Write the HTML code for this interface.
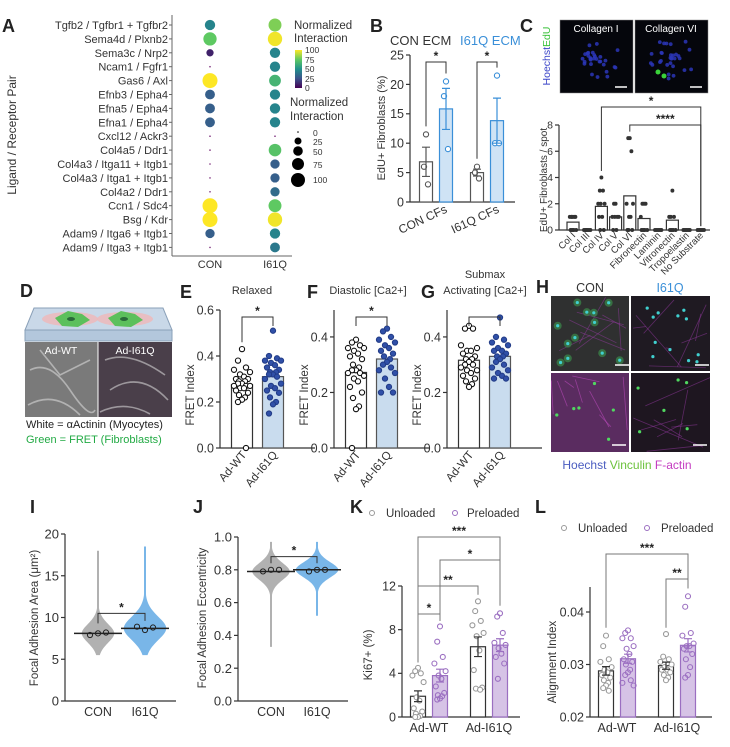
<!DOCTYPE html>
<html><head><meta charset="utf-8"><style>
html,body{margin:0;padding:0;background:#fff;}
svg{display:block;font-family:"Liberation Sans",sans-serif;}
</style></head><body>
<svg id="fig" width="730" height="747" viewBox="0 0 730 747" xmlns="http://www.w3.org/2000/svg">
<defs>
<linearGradient id="vir" x1="0" y1="1" x2="0" y2="0"><stop offset="0" stop-color="#440154"/><stop offset="0.25" stop-color="#3b528b"/><stop offset="0.5" stop-color="#21918c"/><stop offset="0.75" stop-color="#5ec962"/><stop offset="1" stop-color="#fde725"/></linearGradient>
</defs>
<g font-weight="bold" font-size="18" fill="#222">
<text x="2" y="32">A</text>
<text x="370" y="32">B</text>
<text x="520" y="32">C</text>
<text x="20" y="297">D</text>
<text x="180" y="298">E</text>
<text x="307" y="298">F</text>
<text x="421" y="298">G</text>
<text x="536" y="293">H</text>
<text x="30" y="513">I</text>
<text x="193" y="513">J</text>
<text x="350" y="513">K</text>
<text x="535" y="513">L</text>
</g>
<!-- Panel A static -->
<text transform="translate(16,135) rotate(-90)" text-anchor="middle" font-size="12" fill="#333">Ligand / Receptor Pair</text>
<line x1="172" y1="15" x2="172" y2="256" stroke="#666"/>
<line x1="172" y1="256" x2="292" y2="256" stroke="#666"/>
<text x="210" y="268" text-anchor="middle" font-size="11" fill="#333">CON</text>
<text x="275" y="268" text-anchor="middle" font-size="11" fill="#333">I61Q</text>
<g fill="#333">
<text x="294" y="29" font-size="11.5">Normalized</text><text x="294" y="42" font-size="11.5">Interaction</text>
<rect x="295" y="50" width="7" height="38" fill="url(#vir)"/>
<text x="305" y="53" font-size="8.5">100</text><text x="305" y="63" font-size="8.5">75</text><text x="305" y="72" font-size="8.5">50</text><text x="305" y="82" font-size="8.5">25</text><text x="305" y="91" font-size="8.5">0</text>
<text x="290" y="106" font-size="11.5">Normalized</text><text x="290" y="120" font-size="11.5">Interaction</text>
<circle cx="298" cy="132" r="0.8" fill="#000"/><circle cx="298" cy="141" r="3.5" fill="#000"/><circle cx="298" cy="151" r="4.8" fill="#000"/><circle cx="298" cy="164" r="6" fill="#000"/><circle cx="298" cy="180" r="7" fill="#000"/>
<text x="313" y="136" font-size="8.5">0</text><text x="313" y="145" font-size="8.5">25</text><text x="313" y="155" font-size="8.5">50</text><text x="313" y="168" font-size="8.5">75</text><text x="313" y="183" font-size="8.5">100</text>
</g>
<!-- Panel B static -->
<text x="390" y="45" font-size="13" fill="#333">CON ECM</text>
<text x="460" y="45" font-size="13" fill="#3a8fd8">I61Q ECM</text>
<text transform="translate(385,128) rotate(-90)" text-anchor="middle" font-size="11" fill="#333">EdU+ Fibroblasts (%)</text>
<text transform="translate(448,212) rotate(-25)" text-anchor="end" font-size="12" fill="#333">CON CFs</text>
<text transform="translate(500,212) rotate(-25)" text-anchor="end" font-size="12" fill="#333">I61Q CFs</text>
<!-- Panel C static -->
<rect x="560" y="20" width="73" height="73" fill="#05060c" stroke="#888" stroke-width="0.5"/>
<rect x="635" y="20" width="73" height="73" fill="#05060c" stroke="#888" stroke-width="0.5"/>
<text x="596" y="32" text-anchor="middle" font-size="10" fill="#fff">Collagen I</text>
<text x="671" y="32" text-anchor="middle" font-size="10" fill="#fff">Collagen VI</text>
<g id="cdots"></g>
<line x1="615" y1="87" x2="627" y2="87" stroke="#fff" stroke-width="1.5"/><line x1="690" y1="87" x2="702" y2="87" stroke="#fff" stroke-width="1.5"/>
<text transform="translate(550,56) rotate(-90)" text-anchor="middle" font-size="10.5"><tspan fill="#3a44c8">Hoechst</tspan><tspan fill="#3cc23c">EdU</tspan></text>
<text transform="translate(547,180) rotate(-90)" text-anchor="middle" font-size="10" fill="#333">EdU+ Fibroblasts / spot</text>
<!-- Panel D -->
<g>
<polygon points="34,308 163,308 172,330 25,330" fill="#c9d8e8" stroke="#8aa0b8"/>
<rect x="25" y="330" width="147" height="11" fill="#b3c7dc" stroke="#8aa0b8"/>
<ellipse cx="70" cy="319" rx="28" ry="7" fill="#f0b8b8" opacity="0.8"/><ellipse cx="125" cy="319" rx="28" ry="7" fill="#f0b8b8" opacity="0.8"/>
<polygon points="55,318 68,311 82,314 90,320 78,327 62,326" fill="#5cc05c"/><polygon points="108,318 121,311 135,314 143,320 131,327 115,326" fill="#5cc05c"/>
<ellipse cx="71" cy="319" rx="4" ry="2" fill="#2a6a3a"/><ellipse cx="124" cy="319" rx="4" ry="2" fill="#2a6a3a"/>
</g>
<rect x="25" y="342" width="73" height="75" fill="#7a7a7a"/>
<rect x="98" y="342" width="74" height="75" fill="#4a3f4a"/>
<g stroke="#e0e0e0" stroke-width="1.6" opacity="0.55" fill="none"><path d="M30,370 Q50,360 70,390 T95,410"/><path d="M40,350 L60,375 L90,360"/><path d="M28,405 Q55,390 80,415"/><path d="M105,360 Q130,350 165,375"/><path d="M110,390 Q140,370 168,400"/><path d="M100,412 Q125,400 150,414"/></g>
<line x1="98" y1="342" x2="98" y2="417" stroke="#fff"/>
<text x="61" y="354" text-anchor="middle" font-size="10.5" fill="#fff">Ad-WT</text>
<text x="135" y="354" text-anchor="middle" font-size="10.5" fill="#fff">Ad-I61Q</text>
<text x="26" y="428" font-size="11" fill="#222">White = αActinin (Myocytes)</text>
<text x="26" y="443" font-size="11" fill="#22aa44">Green = FRET (Fibroblasts)</text>
<!-- E F G titles -->
<text x="252" y="294" text-anchor="middle" font-size="11" fill="#333">Relaxed</text>
<text x="368" y="294" text-anchor="middle" font-size="11" fill="#333">Diastolic [Ca2+]</text>
<text x="485" y="278" text-anchor="middle" font-size="11" fill="#333">Submax</text>
<text x="485" y="294" text-anchor="middle" font-size="11" fill="#333">Activating [Ca2+]</text>
<!-- H -->
<text x="590" y="292" text-anchor="middle" font-size="12.5" fill="#333">CON</text>
<text x="670" y="292" text-anchor="middle" font-size="12.5" fill="#3a8fd8">I61Q</text>
<rect x="551" y="296" width="78" height="75" fill="#2f3030"/>
<rect x="631" y="296" width="79" height="75" fill="#1f1a22"/>
<rect x="551" y="373" width="78" height="79" fill="#5a2c60"/>
<rect x="631" y="373" width="79" height="79" fill="#1e1620"/>
<g id="hdots"></g>
<text x="627" y="469" text-anchor="middle" font-size="12"><tspan fill="#4a5cc0">Hoechst</tspan> <tspan fill="#6cc23c">Vinculin</tspan> <tspan fill="#c43cc0">F-actin</tspan></text>
<!-- I J -->
<text transform="translate(38,618) rotate(-90)" text-anchor="middle" font-size="11.5" fill="#333">Focal Adhesion Area (μm²)</text>
<text transform="translate(206,618) rotate(-90)" text-anchor="middle" font-size="11.5" fill="#333">Focal Adhesion Eccentricity</text>
<!-- K L legends -->
<g font-size="11.5" fill="#333">
<circle cx="372" cy="513" r="2.5" fill="none" stroke="#999"/><text x="386" y="517">Unloaded</text>
<circle cx="455" cy="513" r="2.5" fill="none" stroke="#9b6fc1"/><text x="467" y="517">Preloaded</text>
<circle cx="564" cy="528" r="2.5" fill="none" stroke="#999"/><text x="578" y="532">Unloaded</text>
<circle cx="647" cy="528" r="2.5" fill="none" stroke="#9b6fc1"/><text x="661" y="532">Preloaded</text>
</g>
<text transform="translate(372,655) rotate(-90)" text-anchor="middle" font-size="11.5" fill="#333">Ki67+ (%)</text>
<text transform="translate(556,662) rotate(-90)" text-anchor="middle" font-size="11.5" fill="#333">Alignment Index</text>
<g id="charts"></g>
</svg>
<script>
// ---------- DATA ----------
const aPairs=["Tgfb2 / Tgfbr1 + Tgfbr2","Sema4d / Plxnb2","Sema3c / Nrp2","Ncam1 / Fgfr1","Gas6 / Axl","Efnb3 / Epha4","Efna5 / Epha4","Efna1 / Epha4","Cxcl12 / Ackr3","Col4a5 / Ddr1","Col4a3 / Itga11 + Itgb1","Col4a3 / Itga1 + Itgb1","Col4a2 / Ddr1","Ccn1 / Sdc4","Bsg / Kdr","Adam9 / Itga6 + Itgb1","Adam9 / Itga3 + Itgb1"];
const aConSize=[40,75,15,0,100,35,35,35,0,0,0,0,0,100,100,30,0];
const aConColor=[45,75,10,0,100,30,30,30,0,0,0,0,0,100,100,30,0];
const aI61Size=[70,90,40,40,55,40,40,40,0,65,30,30,30,70,90,40,35];
const aI61Color=[80,98,45,45,65,45,45,45,0,72,30,30,35,75,98,45,40];

const bGroups=["CON CFs","I61Q CFs"];
const bConEcm=[[11.5,6,3],[6,5,4]];
const bI61Ecm=[[20.5,18,9],[21.5,10,10]];
const bTicks=[0,5,10,15,20,25];

const cCats=["Col I","Col III","Col IV","Col V","Col VI","Fibronectin","Laminin","Vitronectin","Tropoelastin","No Substrate"];
const cPoints=[[1,1,1,1,0,0,0,0,1,1],[0,0,0,0,0,0],[4,3,3,2,2,2,1,1,0,0],[2,2,1,1,1,1,0,0],[7,7,6,2,2,1,1,0,0,0],[2,2,2,1,0,0,0,0],[0,0,0,0,0],[3,1,1,1,0,0,0,0],[0,0,0,0,0],[0,0,0,0,0]];
const cTicks=[0,2,4,6,8];

const eWT=[0.43,0.38,0.35,0.34,0.33,0.32,0.31,0.30,0.30,0.29,0.29,0.28,0.28,0.27,0.27,0.27,0.26,0.26,0.25,0.24,0.23,0.22,0.21,0.20,0.0];
const eI61=[0.51,0.40,0.39,0.38,0.38,0.37,0.36,0.35,0.34,0.33,0.33,0.32,0.32,0.31,0.30,0.28,0.27,0.26,0.25,0.24,0.22,0.20,0.19,0.15];
const fWT=[0.39,0.38,0.37,0.36,0.36,0.35,0.34,0.33,0.32,0.30,0.29,0.28,0.28,0.27,0.27,0.26,0.25,0.24,0.22,0.20,0.18,0.15,0.14,0.0];
const fI61=[0.43,0.42,0.40,0.39,0.38,0.37,0.36,0.35,0.34,0.33,0.32,0.31,0.30,0.29,0.28,0.27,0.25,0.22,0.20,0.20];
const gWT=[0.44,0.43,0.43,0.37,0.36,0.35,0.35,0.34,0.33,0.32,0.32,0.31,0.30,0.30,0.29,0.28,0.28,0.27,0.26,0.25,0.24,0.23,0.22];
const gI61=[0.47,0.40,0.39,0.38,0.37,0.36,0.35,0.35,0.34,0.33,0.33,0.32,0.31,0.30,0.29,0.28,0.27,0.26,0.25,0.25];
const fretGroups=["Ad-WT","Ad-I61Q"];
const eTicks=[0,0.2,0.4,0.6];
const fTicks=[0,0.2,0.4];

const ijGroups=["CON","I61Q"];
const iMedian=[8.1,8.7];
const iReps=[[7.9,8.1,8.2],[8.9,8.5,8.8]];
const iMin=[5.5,5.5];
const iMax=[18,18.5];
const iSpread=[1.2,1.5];
const iTicks=[0,5,10,15,20];
const jMedian=[0.79,0.80];
const jReps=[[0.79,0.80,0.80],[0.79,0.80,0.80]];
const jMin=[0.33,0.52];
const jMax=[0.97,0.97];
const jSpread=[0.055,0.05];
const jTicks=[0,0.2,0.4,0.6,0.8,1.0];

const klGroups=["Ad-WT","Ad-I61Q"];
const kUnloaded=[[4.5,4.2,4,3.8,3.2,1.8,1.5,0.8,0.5,0.3,0.1,0,0],[10.6,9.7,8.8,8.4,7.7,7.4,6.1,4.3,2.7,2.6,2.5]];
const kPreloaded=[[8.3,6.9,5.5,4.9,4.2,3.8,3.5,2.8,2.2,2,1.9,1.7,1.6],[9.5,9.2,7.7,6.8,6.6,6.3,5.8,5.5,4.9,3.5]];
const kTicks=[0,4,8,12];
const lUnloaded=[[0.0355,0.0335,0.031,0.0305,0.0295,0.029,0.0285,0.028,0.0275,0.027,0.0265,0.026,0.0255,0.025],[0.0358,0.0315,0.031,0.0305,0.030,0.0295,0.029,0.029,0.0285,0.028,0.0275,0.027]];
const lPreloaded=[[0.0365,0.036,0.035,0.035,0.0335,0.033,0.032,0.031,0.0305,0.030,0.029,0.0285,0.028,0.027,0.0265,0.026],[0.043,0.041,0.036,0.0355,0.034,0.0335,0.0335,0.033,0.032,0.031,0.0295,0.028,0.0275]];
const lTicks=[0.02,0.03,0.04];

// ---------- HELPERS ----------
const NS='http://www.w3.org/2000/svg';
const root=document.getElementById('charts');
function mk(tag,a,p){const e=document.createElementNS(NS,tag);for(const k in a)e.setAttribute(k,a[k]);(p||root).appendChild(e);return e;}
function lin(d0,d1,r0,r1){return v=>r0+(v-d0)*(r1-r0)/(d1-d0);}
function mean(a){return a.reduce((s,v)=>s+v,0)/a.length;}
function sem(a){const m=mean(a);return Math.sqrt(a.reduce((s,v)=>s+(v-m)*(v-m),0)/(a.length-1))/Math.sqrt(a.length);}
function viridis(t){const st=[[68,1,84],[59,82,139],[33,145,140],[94,201,98],[253,231,37]];t=Math.max(0,Math.min(1,t))*4;const i=Math.min(3,Math.floor(t)),f=t-i;const c=st[i].map((v,k)=>Math.round(v+(st[i+1][k]-v)*f));return 'rgb('+c.join(',')+')';}
const jit=[0,-4,4,-8,8,-2,2,-6,6,-3,3];
function yAxis(x,y,ticks,fmt,topPx,fs,name){
  const ax=mk('line',{x1:x,y1:topPx,x2:x,y2:y(ticks[0]),stroke:'#333','stroke-width':1.2});
  
  
  ticks.forEach(t=>{
    mk('line',{x1:x-4,y1:y(t),x2:x,y2:y(t),stroke:'#333','stroke-width':1.2});
    const tl=mk('text',{x:x-6,y:y(t)+fs*0.35,'text-anchor':'end','font-size':fs,fill:'#333'});
    tl.textContent=fmt(t);
    
    
  });
}
function xAxis(x0,x1,y,name){
  const ax=mk('line',{x1:x0,y1:y,x2:x1,y2:y,stroke:'#333','stroke-width':1.2});
  
  
}
function bracket(x0,x1,yb,yd0,yd1,lab,name,col){
  mk('path',{d:`M${x0},${yd0} V${yb} H${x1} V${yd1}`,fill:'none',stroke:col||'#333','stroke-width':1});
  const t=mk('text',{x:(x0+x1)/2,y:yb-2,'text-anchor':'middle','font-size':12,'font-weight':'bold',fill:'#222'});
  t.textContent=lab;
  
  
}
function barScatter(cx,w,vals,y,o,name){
  const base=o.base!==undefined?o.base:0;
  const m=mean(vals);
  const b=mk('rect',{x:cx-w/2,y:y(m),width:w,height:Math.max(0,y(base)-y(m)),fill:o.fill,stroke:o.stroke,'stroke-width':1.2});
  
  
  vals.forEach((v,i)=>{
    const c=mk('circle',{cx:cx+jit[i%jit.length]*(o.js||1),cy:y(v),r:o.r||2.4,fill:o.pfill,stroke:o.pstroke,'stroke-width':1.1});
    
    
  });
  if(o.err){const s=sem(vals);mk('path',{d:`M${cx},${y(m-s)} V${y(m+s)} M${cx-4},${y(m+s)} H${cx+4} M${cx-4},${y(m-s)} H${cx+4}`,stroke:o.stroke,'stroke-width':1.2,fill:'none'});}
}

// ---------- PANEL A ----------
(function(){
  const y=i=>25+i*13.9;
  aPairs.forEach((p,i)=>{
    const t=mk('text',{x:168,y:y(i)+4,'text-anchor':'end','font-size':11,fill:'#333'});
    t.textContent=p;
    
    
    mk('line',{x1:169,y1:y(i),x2:172,y2:y(i),stroke:'#666'});
    [[210,aConSize,aConColor,'con'],[275,aI61Size,aI61Color,'i61q']].forEach(([x,S,C,n])=>{
      const r=S[i]===0?0.8:1.2+6.3*Math.sqrt(S[i]/100);
      const d=mk('circle',{cx:x,cy:y(i),r:r,fill:S[i]===0?'#7a2a7a':viridis(C[i]/100)});
      
      
    });
  });
})();

// ---------- PANEL B ----------
(function(){
  const y=lin(0,25,202,55);
  yAxis(410,y,bTicks,v=>v,55,12.5,'b');
  xAxis(410,515,202,'b');
  const cx=[436,487];
  bGroups.forEach((g,i)=>{
    barScatter(cx[i]-10,13,bConEcm[i],y,{fill:'#fff',stroke:'#555',pfill:'#fff',pstroke:'#555',r:2.6,err:1,js:0.5},'b-con-ecm');
    barScatter(cx[i]+10,13,bI61Ecm[i],y,{fill:'#cfe3f5',stroke:'#3a8fd8',pfill:'#fff',pstroke:'#3a8fd8',r:2.6,err:1,js:0.5},'b-i61q-ecm');
    bracket(cx[i]-10,cx[i]+10,62,y(Math.max(...bConEcm[i]))-8,y(Math.max(...bI61Ecm[i]))-8,'*','b-significance');
  });
})();

// ---------- PANEL C ----------
(function(){
  const g=document.getElementById('cdots');
  let s=7;const rnd=()=>{s=(s*9301+49297)%233280;return s/233280;};
  [596,671].forEach(cx=>{for(let k=0;k<30;k++){const a=rnd()*6.28,r=rnd()*24;mk('circle',{cx:cx+Math.cos(a)*r,cy:58+Math.sin(a)*r*0.9,r:1.9,fill:'#2c36b8',opacity:0.85},g);}});
  mk('circle',{cx:658,cy:72,r:2.5,fill:'#3ad23a'},g);mk('circle',{cx:664,cy:76,r:2.5,fill:'#3ad23a'},g);
  const y=lin(0,8,230,125);
  yAxis(559,y,cTicks,v=>v,125,10.5,'c');
  xAxis(559,710,230,'c');
  const x=i=>573+i*14.2;
  cCats.forEach((c,i)=>{
    barScatter(x(i),12,cPoints[i],y,{fill:'#fff',stroke:'#333',pfill:'#333',pstroke:'#333',r:1.4,js:0.4,base:0},'c-'+i);
    const t=mk('text',{transform:`translate(${x(i)+3},236) rotate(-45)`,'text-anchor':'end','font-size':9.5,fill:'#333'});
    t.textContent=c;
    
    
  });
  bracket(x(2),x(9),107,y(4.5),y(0.3),'*','c-significance-1');
  bracket(x(4),x(9),125,y(7.5),y(0.3),'****','c-significance-2');
})();

// ---------- PANELS E F G ----------
(function(){
  const sets=[[220,eWT,eI61,eTicks,0.6,310,'e',true],[334,fWT,fI61,fTicks,0.497,310,'f',true],[447,gWT,gI61,fTicks,0.497,310,'g',false]];
  sets.forEach(([ax,wt,mu,ticks,dtop,top,n,star])=>{
    const y=lin(0,dtop,448,top);
    yAxis(ax,y,ticks,v=>v.toFixed(1),top,12.5,n);
    xAxis(ax,ax+95,448,n);
    const tt=mk('text',{transform:`translate(${ax-26},395) rotate(-90)`,'text-anchor':'middle','font-size':11.5,fill:'#333'});
    tt.textContent='FRET Index';
    
    
    const c1=ax+22,c2=ax+53;
    barScatter(c1,21,wt,y,{fill:'#fff',stroke:'#333',pfill:'#fff',pstroke:'#111',r:2.6},n+'-ad-wt');
    barScatter(c2,21,mu,y,{fill:'#c9dcee',stroke:'#555',pfill:'#3050a8',pstroke:'#233d88',r:2.6},n+'-ad-i61q');
    bracket(c1,c2,top+7,y(0.46)>top+12?y(0.46):top+16,top+16,star?'*':'',n+'-significance');
    fretGroups.forEach((g,i)=>{
      const t=mk('text',{transform:`translate(${(i?c2:c1)+5},455) rotate(-50)`,'text-anchor':'end','font-size':11.5,fill:'#333'});
      t.textContent=g;
      
      
    });
  });
})();

// ---------- H decoration ----------
(function(){
  const g=document.getElementById('hdots');
  let s=3;const rnd=()=>{s=(s*9301+49297)%233280;return s/233280;};
  [[551,296,78,75],[631,296,79,75],[551,373,78,79],[631,373,79,79]].forEach(([x,y0,w,h],q)=>{
    for(let k=0;k<8;k++){mk('line',{x1:x+rnd()*w,y1:y0+rnd()*h,x2:x+rnd()*w,y2:y0+rnd()*h,stroke:q==2?'#d050d0':'#9a3aa8','stroke-width':0.8,opacity:0.5},g);}
    const n=q<2?12:6;
    for(let k=0;k<n;k++){const cx=x+5+rnd()*(w-10),cy=y0+5+rnd()*(h-10);
      if(q==0)mk('circle',{cx,cy,r:4,fill:'#3a8a4a',opacity:0.7},g);
      mk('circle',{cx,cy,r:1.6,fill:q<2?'#40d0d0':'#50d860'},g);}
  });
  [[615,365],[695,365],[612,445],[693,445]].forEach(([x,y])=>mk('line',{x1:x,y1:y,x2:x+14,y2:y,stroke:'#fff','stroke-width':1.5},g));
})();

// ---------- PANELS I J ----------
function violin(ax,xs,xEnd,y,ticks,fmt,med,reps,mn,mx,spr,hws,name){
  yAxis(ax,y,ticks,fmt,y(ticks[ticks.length-1]),13,name);
  xAxis(ax,xEnd,y(ticks[0]),name);
  const cols=['#a8a8a8','#6aaee6'];
  xs.forEach((cx,i)=>{
    let L=[],R=[];
    for(let k=0;k<=80;k++){const v=mn[i]+(mx[i]-mn[i])*k/80;const z=(v-med[i])/spr[i];const w=Math.max(1,hws[i]*Math.exp(-z*z/2)+hws[i]*0.25/(1+z*z));L.push([cx-w,y(v)]);R.push([cx+w,y(v)]);}
    const pts=L.concat(R.reverse()).map(p=>p.join(',')).join(' ');
    const pg=mk('polygon',{points:pts,fill:cols[i],opacity:0.9});
    
    
    mk('line',{x1:cx-24,y1:y(med[i]),x2:cx+24,y2:y(med[i]),stroke:'#222','stroke-width':1.5});
    reps[i].forEach((v,k)=>{const c=mk('circle',{cx:cx-8+k*8,cy:y(v),r:2.6,fill:'none',stroke:'#222','stroke-width':1});
      
      });
    const t=mk('text',{x:cx,y:716,'text-anchor':'middle','font-size':12.5,fill:'#333'});
    t.textContent=ijGroups[i];
    
    
  });
}
(function(){
  const yi=lin(0,20,701,534);
  violin(65,[98,145],176,yi,iTicks,v=>v,iMedian,iReps,iMin,iMax,iSpread,[13,17],'i');
  bracket(98,145,yi(10.5),yi(9.3),yi(9.6),'*','i-significance');
  const yj=lin(0,1,701,537);
  violin(238,[271,317],348,yj,jTicks,v=>v.toFixed(1),jMedian,jReps,jMin,jMax,jSpread,[15,17],'j');
  bracket(271,317,yj(0.88),yj(0.84),yj(0.84),'*','j-significance');
})();

// ---------- PANELS K L ----------
function kl(ax,y,ticks,fmt,unl,pre,xc,xEnd,topPx,name){
  yAxis(ax,y,ticks,fmt,topPx,12.5,name);
  xAxis(ax,xEnd,y(ticks[0]),name);
  klGroups.forEach((g,i)=>{
    barScatter(xc[i]-11,15,unl[i],y,{fill:'#fff',stroke:'#333',pfill:'#fff',pstroke:'#999',r:2.5,err:1,js:0.7,base:ticks[0]},name+'-unloaded');
    barScatter(xc[i]+11,15,pre[i],y,{fill:'#d6c3e6',stroke:'#9b6fc1',pfill:'none',pstroke:'#9b6fc1',r:2.5,err:1,js:0.7,base:ticks[0]},name+'-preloaded');
    const t=mk('text',{x:xc[i],y:y(ticks[0])+15,'text-anchor':'middle','font-size':12.5,fill:'#333'});
    t.textContent=g;
    
    
  });
}
(function(){
  const yk=lin(0,12,717,586);
  const xk=[429,489];
  kl(402,yk,kTicks,v=>v,kUnloaded,kPreloaded,xk,520,586,'k');
  bracket(xk[0]-11,xk[1]+11,537,yk(5),yk(10.2),'***','k-sig-1','#777');
  bracket(xk[0]+11,xk[1]+11,560,yk(8.8),yk(10.2),'*','k-sig-2','#777');
  bracket(xk[0]-11,xk[1]-11,586,yk(5),yk(11.2),'**','k-sig-3','#777');
  bracket(xk[0]-11,xk[0]+11,614,yk(5),yk(8.8),'*','k-sig-4','#777');
  const yl=lin(0.02,0.04,717,612);
  const xl=[617,677];
  kl(590,yl,lTicks,v=>v.toFixed(2),lUnloaded,lPreloaded,xl,712,587,'l');
  bracket(xl[0]-11,xl[1]+11,554,yl(0.037),yl(0.0445),'***','l-sig-1','#777');
  bracket(xl[1]-11,xl[1]+11,579,yl(0.037),yl(0.0445),'**','l-sig-2','#777');
})();
</script>
</body></html>
